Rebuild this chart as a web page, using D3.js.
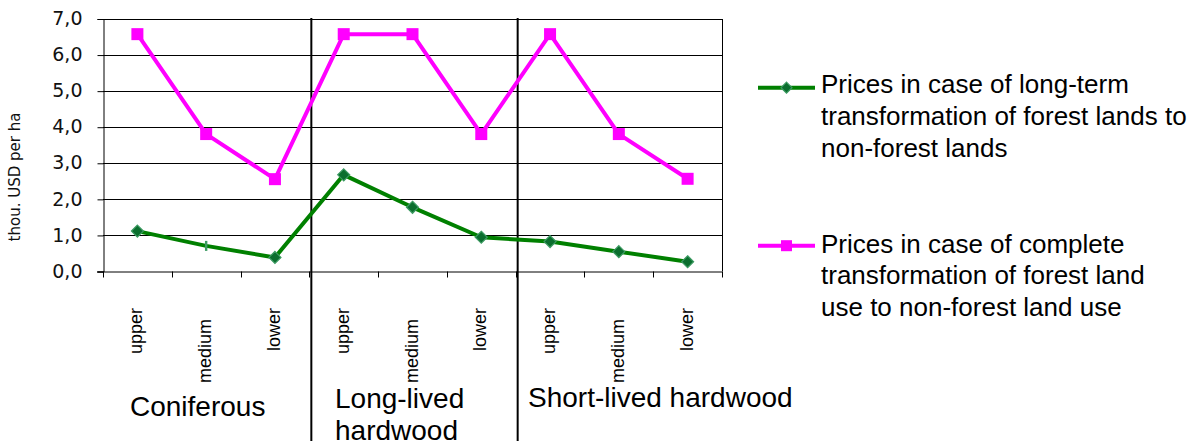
<!DOCTYPE html>
<html><head><meta charset="utf-8">
<script src="https://cdn.jsdelivr.net/npm/d3@7"></script>
<style>body{margin:0;background:#fff}svg{display:block}</style>
</head><body><svg id="c" width="1194" height="447"></svg>
<script>
// ---- data ----
const categories = ["upper","medium","lower","upper","medium","lower","upper","medium","lower"];
const groups = [["Coniferous"],["Long-lived","hardwood"],["Short-lived hardwood"]];
const longTerm = [1.12,0.71,0.39,2.68,1.78,0.95,0.83,0.55,0.27];
const complete = [6.58,3.81,2.56,6.58,6.58,3.81,6.58,3.81,2.57];
const yTicks = [0,1,2,3,4,5,6,7];
const seriesNames = [
  ["Prices in case of long-term","transformation of forest lands to","non-forest lands"],
  ["Prices in case of complete","transformation of forest land","use to non-forest land use"]
];
const yTitle = "thou. USD per ha";
const longTermDashIdx = [1]; // point drawn with a dash marker instead of diamond

// ---- layout ----
const L = 103, R = 722, T = 19, B = 271.5;
const svg = d3.select("#c");
const x = d3.scaleBand().domain(d3.range(categories.length)).range([L, R]).padding(0);
const y = d3.scaleLinear().domain([0, 7]).range([B, T]);
const cx = i => x(i) + x.bandwidth() / 2;
const fmt = v => d3.format(".1f")(v).replace(".", ",");

// gridlines
svg.append("g").selectAll("line").data(yTicks.filter(v => v > 0)).join("line")
  .attr("x1", L).attr("x2", R).attr("y1", d => Math.round(y(d)) + 0.5).attr("y2", d => Math.round(y(d)) + 0.5)
  .attr("stroke", "#000").attr("stroke-width", 1);
// right border
svg.append("line").attr("x1", R + 0.5).attr("x2", R + 0.5).attr("y1", T).attr("y2", B)
  .attr("stroke", "#000");

// y axis
const yAxis = svg.append("g").attr("transform", `translate(${L + 0.5},0)`)
  .call(d3.axisLeft(y).tickValues(yTicks).tickFormat(fmt).tickSize(6).tickPadding(15));
yAxis.select(".domain").attr("stroke", "#000");
yAxis.selectAll("text").attr("font-family", "'DejaVu Sans', Verdana, sans-serif")
  .attr("font-size", 19).attr("fill", "#111").attr("dy", "0.30em");

// x axis (boundary ticks)
const bounds = d3.range(categories.length + 1).map(i => L + i * x.bandwidth());
svg.append("line").attr("x1", L - 6).attr("x2", R).attr("y1", B + 0.5).attr("y2", B + 0.5).attr("stroke", "#000");
svg.append("g").selectAll("line").data(bounds).join("line")
  .attr("x1", d => Math.round(d) + 0.5).attr("x2", d => Math.round(d) + 0.5)
  .attr("y1", B).attr("y2", B + 6).attr("stroke", "#000");

// category labels (rotated)
svg.append("g").selectAll("text").data(categories).join("text")
  .attr("transform", (d, i) => `translate(${cx(i) + 5},${d === "medium" ? 319 : 308}) rotate(-90)`)
  .attr("text-anchor", "end").attr("font-family", "Arial, 'Liberation Sans', sans-serif")
  .attr("font-size", 18).attr("fill", "#000").text(d => d);

// group separators
[3, 6].forEach(i => {
  const sx = bounds[i] + 2;
  svg.append("line").attr("x1", sx).attr("x2", sx).attr("y1", 18).attr("y2", 441)
    .attr("stroke", "#000").attr("stroke-width", 2);
});

// group labels
const groupPos = [[130, 415.5], [335, 408], [528, 406.5]];
groups.forEach((lines, gi) => {
  const t = svg.append("text").attr("font-family", "Arial, 'Liberation Sans', sans-serif")
    .attr("font-size", 28).attr("fill", "#000");
  lines.forEach((ln, k) => t.append("tspan").attr("x", groupPos[gi][0])
    .attr("y", groupPos[gi][1] + k * 32).text(ln));
});

// y title
svg.append("text").attr("transform", `translate(20,177) rotate(-90)`).attr("text-anchor", "middle")
  .attr("font-family", "'DejaVu Sans', Verdana, sans-serif").attr("font-size", 15).attr("fill", "#111")
  .text(yTitle);

// series
const line = d3.line().x((d, i) => cx(i)).y(d => y(d));
const GREEN = "#008000", MAG = "#FF00FF";
svg.append("path").datum(longTerm).attr("d", line).attr("fill", "none")
  .attr("stroke", GREEN).attr("stroke-width", 4).attr("stroke-linejoin", "round");
svg.append("path").datum(complete).attr("d", line).attr("fill", "none")
  .attr("stroke", MAG).attr("stroke-width", 4).attr("stroke-linejoin", "round");

const diamond = (g, px, py, s) => g.append("path")
  .attr("d", `M${px},${py - s}L${px + s},${py}L${px},${py + s}L${px - s},${py}Z`)
  .attr("fill", "#0B6E2E").attr("stroke", "#3C9A62").attr("stroke-width", 1.2);
const gm = svg.append("g");
longTerm.forEach((v, i) => {
  if (longTermDashIdx.includes(i)) {
    gm.append("rect").attr("x", cx(i) - 1.2).attr("y", y(v) - 5).attr("width", 2.4).attr("height", 10)
      .attr("fill", "#3C9A62");
  } else diamond(gm, cx(i), y(v), 6);
});
svg.append("g").selectAll("rect").data(complete).join("rect")
  .attr("x", (d, i) => cx(i) - 6).attr("y", d => y(d) - 6).attr("width", 12).attr("height", 12)
  .attr("fill", MAG);

// legend
const legY = [87.7, 245.7], legTextY = [93.3, 252.5];
seriesNames.forEach((lines, si) => {
  const col = si === 0 ? GREEN : MAG;
  svg.append("line").attr("x1", 758).attr("x2", 815).attr("y1", legY[si]).attr("y2", legY[si])
    .attr("stroke", col).attr("stroke-width", 4);
  if (si === 0) diamond(svg, 786.5, legY[si], 5.5);
  else svg.append("rect").attr("x", 781).attr("y", legY[si] - 5.5).attr("width", 11).attr("height", 11).attr("fill", MAG);
  const t = svg.append("text").attr("font-family", "Arial, 'Liberation Sans', sans-serif")
    .attr("font-size", 26).attr("fill", "#000");
  lines.forEach((ln, k) => t.append("tspan").attr("x", 821).attr("y", legTextY[si] + k * 31.6).text(ln));
});
</script></body></html>
